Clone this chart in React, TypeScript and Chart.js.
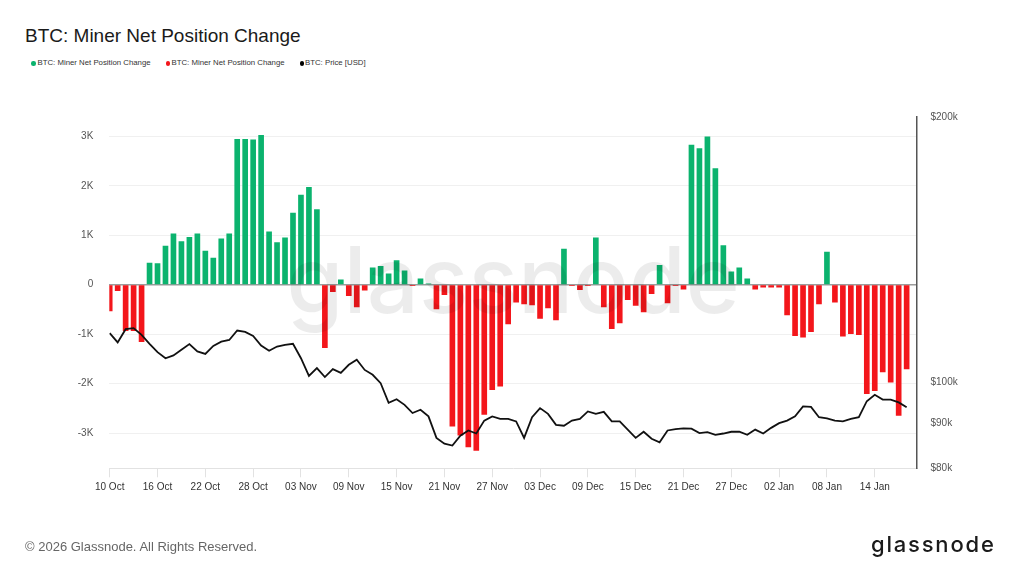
import React, { useEffect, useRef } from "react";
import { Chart, registerables } from "chart.js";

Chart.register(...registerables);

// Daily miner net position change (BTC), 10 Oct -> 18 Jan
const netChange = [
  -530, -120, -930, -930, -1150, 440, 430, 780, 1030, 870,
  960, 1030, 680, 540, 930, 1030, 2940, 2940, 2930, 3020,
  1070, 850, 950, 1450, 1810, 1970, 1520, -1270, -140, 100,
  -220, -450, -110, 340, 370, 220, 490, 280, -10, 120,
  20, -490, -200, -2860, -3040, -3280, -3350, -2620, -2120, -2050,
  -790, -350, -390, -410, -680, -470, -710, 720, -10, -100,
  -20, 950, -450, -890, -770, -300, -420, -550, -180, 390,
  -370, -10, -90, 2820, 2750, 2990, 2350, 790, 260, 340,
  120, -90, -50, -50, -50, -610, -1030, -1060, -950, -390,
  660, -350, -1040, -990, -1010, -2200, -2140, -1760, -1970, -2640,
  -1700,
];

// BTC price [USD]
const priceUsd = [
  113800, 111100, 115000, 115300, 113300, 110700, 108300, 106600, 107400, 109000,
  110600, 108500, 107800, 110100, 111300, 111800, 114600, 114200, 113000, 110200,
  108700, 109900, 110400, 110700, 106600, 101800, 103900, 101500, 103600, 102600,
  104800, 106200, 103400, 102100, 99900, 94900, 95800, 94400, 92400, 93200,
  91600, 86600, 85300, 84900, 87100, 88300, 87600, 90600, 91600, 91000,
  91000, 90400, 86600, 91400, 93600, 92200, 89600, 89400, 90600, 91000,
  92800, 92200, 92700, 90400, 90400, 88500, 86600, 88000, 86400, 85600,
  88300, 88600, 88800, 88700, 87700, 87900, 87300, 87600, 88000, 88000,
  87300, 88500, 87600, 88900, 90000, 90600, 91600, 94000, 93900, 91400,
  91100, 90600, 90400, 91000, 91400, 95300, 96900, 95700, 95700, 95000,
  93800,
];

const tickLabels = [
  "10 Oct", "16 Oct", "22 Oct", "28 Oct", "03 Nov", "09 Nov", "15 Nov", "21 Nov", "27 Nov",
  "03 Dec", "09 Dec", "15 Dec", "21 Dec", "27 Dec", "02 Jan", "08 Jan", "14 Jan",
];
const tickEvery = 6;
const leftTicks = [-3000, -2000, -1000, 0, 1000, 2000, 3000];
const rightTicks = [80000, 90000, 100000, 200000];

const GREEN = "#0bb36e";
const RED = "#f3161b";
const FONT = "'Liberation Sans', Arial, Helvetica, sans-serif";

const watermark = {
  id: "watermark",
  afterDatasetsDraw(chart: any) {
    const { ctx, chartArea } = chart;
    ctx.save();
    ctx.font = "500 92px Inter, 'Noto Sans', sans-serif";
    ctx.fillStyle = "rgba(0,0,0,0.075)";
    ctx.textAlign = "center";
    ctx.textBaseline = "alphabetic";
    ctx.fillText("glassnode", (chartArea.left + chartArea.right) / 2, 313);
    ctx.restore();
  },
};

export default function App() {
  const ref = useRef<HTMLCanvasElement | null>(null);

  useEffect(() => {
    if (!ref.current) return;
    const greenData = netChange
      .map((v, i) => ({ x: i, y: v }))
      .filter((p) => p.y > 0);
    const redData = netChange
      .map((v, i) => ({ x: i, y: v }))
      .filter((p) => p.y < 0);
    const priceData = priceUsd.map((v, i) => ({ x: i, y: v }));

    const chart = new Chart(ref.current, {
      type: "bar",
      data: {
        datasets: [
          {
            type: "line",
            label: "BTC: Price [USD]",
            data: priceData,
            yAxisID: "price",
            borderColor: "#111111",
            backgroundColor: "#111111",
            borderWidth: 1.8,
            pointRadius: 0,
            tension: 0,
            order: 0,
          } as any,
          {
            label: "BTC: Miner Net Position Change",
            data: greenData,
            yAxisID: "y",
            backgroundColor: GREEN,
            borderWidth: 0,
            barThickness: 5,
            grouped: false,
            order: 1,
          } as any,
          {
            label: "BTC: Miner Net Position Change",
            data: redData,
            yAxisID: "y",
            backgroundColor: RED,
            borderWidth: 0,
            barThickness: 5,
            grouped: false,
            order: 1,
          } as any,
        ],
      },
      options: {
        responsive: false,
        animation: false,
        devicePixelRatio: 1,
        layout: { padding: { top: 117, bottom: 67.7, left: 0, right: 0 } },
        plugins: {
          legend: { display: false },
          tooltip: { enabled: false },
        },
        scales: {
          x: {
            type: "linear",
            offset: false,
            min: -0.05,
            max: 101.3,
            afterBuildTicks: (s: any) => {
              s.ticks = tickLabels.map((_, k) => ({ value: k * tickEvery }));
            },
            afterFit: (s: any) => {
              s.height = 40;
            },
            grid: {
              offset: false,
              drawOnChartArea: false,
              drawTicks: true,
              tickLength: 9,
              color: "#e2e2e2",
            },
            border: { display: true, color: "#e2e2e2", width: 1 },
            ticks: {
              autoSkip: false,
              maxRotation: 0,
              padding: 4,
              color: "#333",
              font: { size: 10, family: FONT },
              callback: (v: any) => tickLabels[Math.round(Number(v) / tickEvery)] ?? "",
            },
          },
          y: {
            type: "linear",
            position: "left",
            min: -3710,
            max: 3390,
            afterBuildTicks: (s: any) => {
              s.ticks = leftTicks.map((v) => ({ value: v }));
            },
            afterFit: (s: any) => {
              s.width = 109.3;
            },
            grid: {
              drawTicks: false,
              color: (c: any) => (c.tick && c.tick.value === 0 ? "#9c9c9c" : "#f0f0f0"),
              lineWidth: (c: any) => (c.tick && c.tick.value === 0 ? 1.5 : 1),
            },
            border: { display: false },
            ticks: {
              padding: 16,
              color: "#555",
              font: { size: 10, family: FONT },
              callback: (v: any) => (Number(v) === 0 ? "0" : Number(v) / 1000 + "K"),
            },
          },
          price: {
            type: "logarithmic",
            position: "right",
            min: 80000,
            max: 200000,
            afterBuildTicks: (s: any) => {
              s.ticks = rightTicks.map((v) => ({ value: v }));
            },
            afterFit: (s: any) => {
              s.width = 107;
            },
            grid: { drawOnChartArea: false, drawTicks: false },
            border: { display: true, color: "#555", width: 1.5 },
            ticks: {
              padding: 13.5,
              color: "#555",
              font: { size: 10, family: FONT },
              callback: (v: any) => "$" + Number(v) / 1000 + "k",
            },
          },
        },
      } as any,
      plugins: [watermark],
    });
    return () => chart.destroy();
  }, []);

  const legendItems = [
    { color: GREEN, text: "BTC: Miner Net Position Change", dot: 31, textX: 37.5 },
    { color: RED, text: "BTC: Miner Net Position Change", dot: 165.5, textX: 171.5 },
    { color: "#000", text: "BTC: Price [USD]", dot: 299.5, textX: 305 },
  ];

  return (
    <div
      style={{
        position: "absolute",
        left: 0,
        top: 0,
        width: 1024,
        height: 576,
        background: "#fff",
        overflow: "hidden",
        fontFamily: FONT,
      }}
    >
      <div
        style={{
          position: "absolute",
          left: 25,
          top: 25.5,
          fontSize: 19,
          lineHeight: 1,
          color: "#1a1a1a",
          whiteSpace: "nowrap",
        }}
      >
        BTC: Miner Net Position Change
      </div>
      {legendItems.map((it, k) => (
        <React.Fragment key={k}>
          <div
            style={{
              position: "absolute",
              left: it.dot,
              top: 61,
              width: 4.5,
              height: 4.5,
              borderRadius: "50%",
              background: it.color,
            }}
          />
          <div
            style={{
              position: "absolute",
              left: it.textX,
              top: 58,
              height: 10,
              lineHeight: "10px",
              fontSize: 7.8,
              color: "#333",
              whiteSpace: "nowrap",
            }}
          >
            {it.text}
          </div>
        </React.Fragment>
      ))}
      <canvas
        ref={ref}
        width={1024}
        height={576}
        style={{ position: "absolute", left: 0, top: 0, width: 1024, height: 576 }}
      />
      <div
        style={{
          position: "absolute",
          left: 25,
          top: 538.7,
          fontSize: 13,
          lineHeight: "16px",
          color: "#666",
          whiteSpace: "nowrap",
        }}
      >
        © 2026 Glassnode. All Rights Reserved.
      </div>
      <div
        style={{
          position: "absolute",
          left: 871,
          top: 533,
          fontSize: 22,
          lineHeight: 1,
          letterSpacing: 1.8,
          fontWeight: 500,
          fontFamily: "Inter, 'Noto Sans', sans-serif",
          color: "#1a1a1a",
          whiteSpace: "nowrap",
        }}
      >
        glassnode
      </div>
    </div>
  );
}
